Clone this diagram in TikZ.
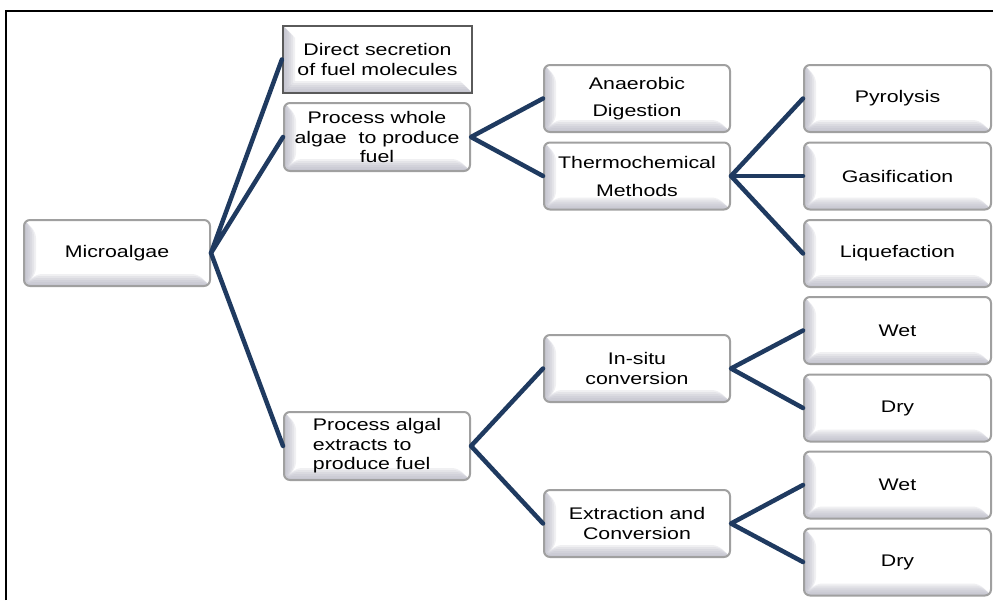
\documentclass[tikz,border=0pt]{standalone}
\usepackage{fontspec}
\newfontfamily\boxfont{Liberation Sans}[FakeStretch=1.27]
\definecolor{linknavy}{HTML}{1F3A60}
\definecolor{boxgray}{HTML}{A0A0A0}
\definecolor{bevel}{HTML}{B4B4C2}
\definecolor{dsgray}{HTML}{5A5A5A}
\tikzset{
  bevelfill/.style={path picture={
    \foreach \d in {2,4,...,12} {
      \fill[bevel,opacity=0.2] (path picture bounding box.south west) -- (path picture bounding box.north west)
        -- ([xshift=\d pt,yshift=-\d pt]path picture bounding box.north west)
        -- ([xshift=\d pt,yshift=\d pt]path picture bounding box.south west) -- cycle;
      \fill[bevel,opacity=0.2] (path picture bounding box.south west) -- (path picture bounding box.south east)
        -- ([xshift=-\d pt,yshift=\d pt]path picture bounding box.south east)
        -- ([xshift=\d pt,yshift=\d pt]path picture bounding box.south west) -- cycle;
    }
  }},
  bx/.style={draw=boxgray, line width=2pt, rounded corners=6pt, fill=white, bevelfill,
    minimum width=186pt, minimum height=67pt, inner sep=0pt, align=center,
    font=\boxfont\fontsize{16.8}{19.5}\selectfont, text=black},
  dsbox/.style={bx, rounded corners=0pt, draw=dsgray, line width=2.2pt, minimum width=189pt},
  link/.style={draw=linknavy, line width=4.5pt, line cap=round, line join=round},
}
\begin{document}
\begin{tikzpicture}[x=1pt,y=-1pt]
\useasboundingbox (0,0) rectangle (993,600);
\draw[line width=1.5pt] (6,600) -- (6,11) -- (993,11);

\node[bx, minimum height=66pt] (ma) at (117,253) {Microalgae};
\node[dsbox] (ds) at (377.5,59.5) {Direct secretion\\of fuel molecules};
\node[bx, minimum height=68pt] (pw) at (377,137) {Process whole\\algae~ to produce\\fuel};
\node[bx, minimum height=68pt, align=left] (pa) at (377,446) {Process algal\\extracts to\\produce fuel};

\node[bx] (ad) at (637,98.5) {Anaerobic\\[7.5pt]Digestion};
\node[bx] (tm) at (637,176) {Thermochemical\\[8.5pt]Methods};
\node[bx] (is) at (637,368.5) {In-situ\\conversion};
\node[bx] (ec) at (637,523.5) {Extraction and\\Conversion};

\node[bx, minimum width=187pt] (py) at (897.5,98.5) {Pyrolysis};
\node[bx, minimum width=187pt] (ga) at (897.5,176) {Gasification};
\node[bx, minimum width=187pt] (lq) at (897.5,253.5) {Liquefaction};
\node[bx, minimum width=187pt] (w1) at (897.5,330.5) {Wet};
\node[bx, minimum width=187pt] (d1) at (897.5,408) {Dry};
\node[bx, minimum width=187pt] (w2) at (897.5,485) {Wet};
\node[bx, minimum width=187pt] (d2) at (897.5,562) {Dry};

\draw[link] (ds.west) -- (ma.east) -- (pw.west);
\draw[link] (ma.east) -- (pa.west);
\draw[link] (ad.west) -- (pw.east) -- (tm.west);
\draw[link] (py.west) -- (tm.east) -- (lq.west);
\draw[link] (tm.east) -- (ga.west);
\draw[link] (is.west) -- (pa.east) -- (ec.west);
\draw[link] (w1.west) -- (is.east) -- (d1.west);
\draw[link] (w2.west) -- (ec.east) -- (d2.west);
\end{tikzpicture}
\end{document}
